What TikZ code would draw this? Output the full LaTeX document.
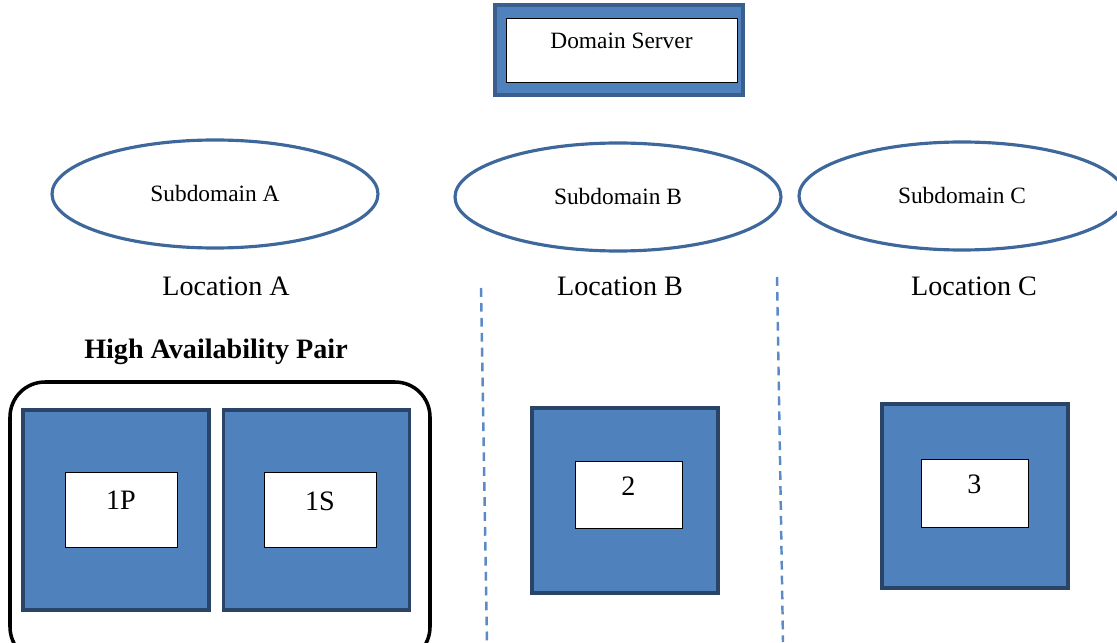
\documentclass[tikz,border=0pt]{standalone}
\usepackage{fontspec}
\setmainfont{Liberation Serif}
\usetikzlibrary{shapes,positioning}

\definecolor{boxblue}{HTML}{4F81BD}
\definecolor{hostline}{HTML}{2A4468}
\definecolor{ringline}{HTML}{3E689B}
\definecolor{srvline}{HTML}{3A5F8E}
\definecolor{cutline}{HTML}{5B8BC6}

\tikzset{
    subdom/.style={draw=ringline, line width=1.8pt, ellipse, minimum width=6.52cm, minimum height=2.16cm, font=\fontsize{13.3}{16}\selectfont},
    host/.style={draw=hostline, fill=boxblue, line width=2.2pt, minimum width=3.72cm},
    slot/.style={draw=black, fill=white, line width=0.5pt, text depth=10pt, font=\fontsize{16}{19}\selectfont},
    loclabel/.style={font=\fontsize{16}{19}\selectfont},
    cut/.style={draw=cutline, line width=1.4pt, dash pattern=on 5pt off 3.5pt}
}

\begin{document}
\begin{tikzpicture}
    \useasboundingbox (0,0) rectangle (22.34,12.84);
    % Domain server
    \node[draw=srvline, fill=boxblue, line width=2pt, minimum width=4.96cm, minimum height=1.8cm] (srv) at (12.38,11.84) {};
    \node[draw=black, fill=white, line width=0.5pt, minimum width=4.62cm, minimum height=1.28cm, text depth=11pt, font=\fontsize{13.3}{16}\selectfont] (srvin) at (12.43,11.84) {Domain Server};
    % Subdomains and locations
    \foreach \name/\x/\y/\lx in {A/4.3/8.96/4.52, B/12.36/8.9/12.4, C/19.24/8.92/19.48} {
        \node[subdom] (sub\name) at (\x,\y) {Subdomain \name};
        \node[loclabel] (loc\name) at (\lx,7.12) {Location \name};
    }
    % Location borders
    \coordinate (cutAtop) at (9.62,7.08);
    \coordinate (cutAbot) at (9.74,0);
    \coordinate (cutBtop) at (15.54,7.3);
    \coordinate (cutBbot) at (15.66,0);
    \draw[cut] (cutAtop) -- (cutAbot);
    \draw[cut] (cutBtop) -- (cutBbot);
    % High availability pair
    \node[font=\bfseries\fontsize{16}{19}\selectfont] (hatitle) at (4.32,5.8) {High Availability Pair};
    \node[draw=black, line width=2pt, rounded corners=0.7cm, minimum width=8.4cm, minimum height=5.6cm] (hapair) at (4.4,2.4) {};
    % Hosts
    \node[host, minimum height=4cm] (host1P) at (2.32,2.64) {};
    \node[slot, minimum width=2.24cm, minimum height=1.5cm] (slot1P) at (2.42,2.65) {1P};
    \node[host, minimum height=4cm] (host1S) at (6.33,2.64) {};
    \node[slot, minimum width=2.24cm, minimum height=1.5cm] (slot1S) at (6.4,2.65) {1S};
    \node[host, minimum height=3.7cm] (host2) at (12.5,2.83) {};
    \node[slot, minimum width=2.14cm, minimum height=1.34cm] (slot2) at (12.57,2.95) {2};
    \node[host, minimum height=3.68cm] (host3) at (19.5,2.92) {};
    \node[slot, minimum width=2.14cm, minimum height=1.36cm] (slot3) at (19.49,2.98) {3};
\end{tikzpicture}
\end{document}
